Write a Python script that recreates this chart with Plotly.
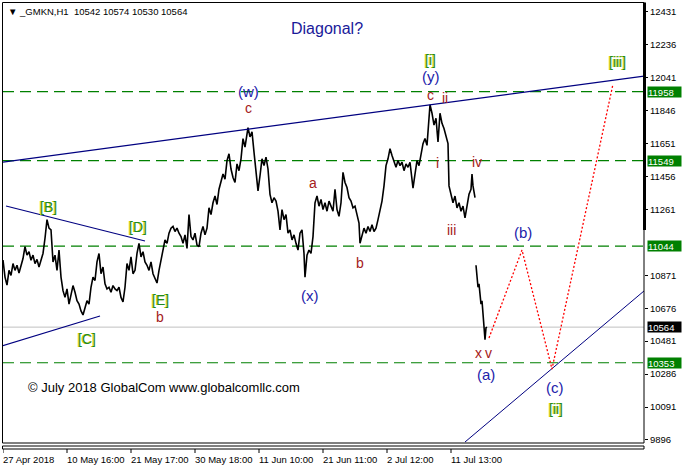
import plotly.graph_objects as go

# ---------------- data ----------------
# hourly bar index (one bar per screen column) and closing prices, segment before the gap
bars_1 = [3,5,7,9,11,13,15,17,19,21,23,25,27,29,31,33,35,37,39,41,43,45,47,49,51,53,55,57,59,61,
          63,65,67,69,71,73,75,77,79,81,83,85,87,89,91,93,95,97,99,101,103,105,107,109,111,113,115,117,119,121,
          123,125,127,129,131,133,135,137,139,141,143,145,147,149,151,153,155,157,159,161,163,165,167,169,171,173,175,177,179,181,
          183,185,187,189,191,193,195,197,199,201,203,205,207,209,211,213,215,217,219,221,223,225,227,229,231,233,235,237,239,241,
          243,245,247,248,250,252,254,256,258,260,262,264,266,268,270,272,274,276,278,280,282,284,286,288,290,292,294,296,298,300,
          302,304,305,307,309,311,313,315,317,319,321,323,325,327,329,331,333,335,337,339,341,343,345,347,349,351,353,355,357,359,
          360,362,364,366,368,370,372,374,376,378,380,382,384,386,388,390,392,394,396,398,400,402,404,406,408,410,412,413,415,417,
          419,421,423,425,427,429,430,432,434,436,438,440,442,444,446,448,449,451,453,455,457,459,461,463,465,467,469,471,472,473,475]
close_1 = [10961,10860,10813,10900,10870,10940,10900,10930,10884,10920,10970,11040,10990,11010,10960,10990,10940,10965,10920,10960,
           11000,11090,11200,11150,11140,10950,10990,10900,11020,10860,
           10780,10740,10790,10700,10760,10810,10770,10720,10700,10660,10636,10680,10720,10700,10800,10860,10840,10950,11000,10880,
           10920,10820,10790,10800,10770,10810,10790,10780,10800,10740,
           10713,10800,10940,10900,10980,10880,10900,11000,11060,10980,11010,10950,10930,10900,10950,10880,10850,10825,10900,10960,
           11040,11080,11060,11120,11150,11160,11130,11150,11120,11100,
           11060,11110,11030,11230,11100,11080,11120,11050,11040,11120,11160,11110,11150,11270,11230,11300,11340,11290,11380,11430,
           11470,11440,11550,11590,11500,11450,11420,11530,11490,11560,
           11680,11630,11700,11745,11690,11720,11600,11500,11370,11460,11560,11520,11570,11500,11350,11300,11330,11310,11250,11140,
           11260,11200,11230,11120,11140,11080,11110,11060,11020,11120,
           11140,11000,10860,10990,11020,11000,11100,11300,11340,11280,11320,11260,11300,11250,11310,11280,11250,11380,11260,11220,
           11300,11480,11420,11390,11330,11310,11270,11280,11230,11180,
           11060,11100,11150,11120,11160,11130,11170,11130,11150,11200,11250,11310,11400,11520,11560,11620,11580,11540,11510,11550,
           11520,11540,11490,11530,11510,11540,11420,11387,11470,11550,
           11520,11600,11650,11680,11640,11800,11880,11830,11760,11800,11660,11830,11770,11740,11700,11650,11400,11350,11300,11340,
           11270,11300,11250,11280,11210,11280,11350,11380,11470,11400,11330]
# segment after the price gap
bars_2 = [476,477,478,479,480,481,482,483,484,485,486,487]
close_2 = [10930,10880,10800,10820,10750,10700,10720,10650,10600,10490,10560,10564]

# horizontal levels
levels = [11958, 11549, 11044, 10353]
last_price = 10564

# trend lines (bar index, price)
upper_line_x = [3, 644]
upper_line_y = [11541, 12050]
tri_top_x = [6, 145]
tri_top_y = [11281, 11074]
tri_bot_x = [2, 100]
tri_bot_y = [10452, 10630]
lower_line_x = [465, 644]
lower_line_y = [9884, 10778]

# projected path
proj_x = [489, 522, 552, 613]
proj_y = [10500, 11020, 10316, 12003]

# axis ticks
price_ticks = [12431, 12236, 12041, 11846, 11651, 11456, 11261, 10871, 10676, 10481, 10286, 10091, 9896]
time_tick_bars = [3, 67, 131, 195, 259, 323, 387, 451]
time_tick_labels = ["27 Apr 2018", "10 May 16:00", "21 May 17:00", "30 May 18:00",
                    "11 Jun 10:00", "21 Jun 11:00", "2 Jul 12:00", "11 Jul 13:00"]

# wave labels: (text, bar, price, kind)
wave_labels = [
    ("[B]", 48, 11275, "g"), ("[D]", 138, 11157, "g"), ("[E]", 160, 10725, "g"),
    ("b", 160, 10624, "r"), ("[C]", 87, 10494, "g"),
    ("(w)", 248, 11956, "b"), ("c", 248, 11861, "r"),
    ("[i]", 430, 12145, "g"), ("(y)", 431, 12045, "b"), ("c", 430, 11938, "r"),
    ("ii", 445, 11920, "r"), ("a", 313, 11417, "r"), ("b", 360, 10944, "r"),
    ("(x)", 310, 10754, "b"), ("i", 437, 11535, "r"), ("iii", 451, 11139, "r"),
    ("iv", 477, 11541, "r"), ("(b)", 523, 11127, "b"), ("x", 478, 10411, "r"),
    ("v", 488, 10411, "r"), ("(a)", 486, 10281, "b"), ("(c)", 555, 10204, "b"),
    ("[ii]", 556, 10079, "g"), ("[iii]", 617, 12133, "g"),
]

# ---------------- figure ----------------
W, H = 685, 470
L, R, T, B = 3, 644, 3, 443
Y_TOP, Y_BOT = 12482.5, 9878.1

def py(pix):
    return (B - pix) / (B - T)

def px(pix):
    return (pix - L) / (R - L)

fig = go.Figure()

fig.add_trace(go.Scatter(x=bars_1 + [None] + bars_2, y=close_1 + [None] + close_2,
                         mode="lines", line=dict(color="black", width=1.6),
                         connectgaps=False, hoverinfo="skip"))
for xs, ys, w in [(upper_line_x, upper_line_y, 1.3), (tri_top_x, tri_top_y, 1.2),
                  (tri_bot_x, tri_bot_y, 1.2), (lower_line_x, lower_line_y, 1)]:
    fig.add_trace(go.Scatter(x=xs, y=ys, mode="lines", line=dict(color="#000080", width=w),
                             hoverinfo="skip"))
fig.add_trace(go.Scatter(x=proj_x, y=proj_y, mode="lines",
                         line=dict(color="#ff0000", width=1.3, dash="2px,2px"), hoverinfo="skip"))

shapes = []
for lv in levels:
    shapes.append(dict(type="line", xref="paper", yref="y", x0=0, x1=1, y0=lv, y1=lv,
                       line=dict(color="#008000", width=1.2, dash="11px,6px"), layer="below"))
shapes.append(dict(type="line", xref="paper", yref="y", x0=0, x1=1, y0=last_price, y1=last_price,
                   line=dict(color="#c0c0c0", width=1), layer="below"))
# frame
shapes.append(dict(type="rect", xref="paper", yref="paper", x0=px(2.5), x1=1, y0=0, y1=py(2.5),
                   line=dict(color="black", width=1)))
shapes.append(dict(type="rect", xref="paper", yref="paper", x0=px(2.5), x1=1, y0=py(446), y1=py(449),
                   line=dict(color="black", width=1)))
shapes.append(dict(type="line", xref="paper", yref="paper", x0=px(644.5), x1=px(644.5), y0=py(230), y1=py(2.5),
                   line=dict(color="black", width=3)))
for tb in time_tick_bars:
    shapes.append(dict(type="line", xref="x", yref="paper", x0=tb, x1=tb, y0=py(449), y1=py(453),
                       line=dict(color="black", width=1)))

annotations = []
tick_font = dict(family="Tahoma, Liberation Sans, Arial", size=9.5, color="black")
for tb, tl in zip(time_tick_bars, time_tick_labels):
    annotations.append(dict(x=tb, y=0, xref="x", yref="paper", text=tl, showarrow=False,
                            xanchor="left", yanchor="top", yshift=-8.5, xshift=-2, font=tick_font))
for lv in levels:
    annotations.append(dict(x=1, y=lv, xref="paper", yref="y", text=str(lv), showarrow=False,
                            xanchor="left", yanchor="middle", xshift=3, bgcolor="#008000",
                            width=33, height=10, align="left", borderpad=0,
                            font=dict(family="Tahoma, Liberation Sans, Arial", size=9.5, color="white")))
annotations.append(dict(x=1, y=last_price, xref="paper", yref="y", text=str(last_price), showarrow=False,
                        xanchor="left", yanchor="middle", xshift=3, bgcolor="black",
                        width=33, height=10, align="left", borderpad=0,
                        font=dict(family="Tahoma, Liberation Sans, Arial", size=9.5, color="white")))

annotations.append(dict(x=px(6), y=py(11), xref="paper", yref="paper",
                        text="▼\u00a0_GMKN,H1\u00a0\u00a010542 10574 10530 10564", showarrow=False,
                        xanchor="left", yanchor="middle", font=tick_font))
annotations.append(dict(x=327, y=12329, xref="x", yref="y", text="Diagonal?", showarrow=False,
                        font=dict(family="Liberation Sans, Arial", size=16, color="#1a1a9a")))
annotations.append(dict(x=164, y=py(397), xref="x", yref="paper",
                        text="© July 2018 GlobalCom www.globalcomllc.com", showarrow=False,
                        font=dict(family="Liberation Sans, Arial", size=13, color="black")))

styles = {
    "g": dict(family="Liberation Sans, Arial", size=14, color="#1f8a1f", shadow="-1px 0px 0px #d4d400"),
    "r": dict(family="Liberation Sans, Arial", size=14, color="#a52020"),
    "b": dict(family="Liberation Sans, Arial", size=15, color="#2222aa"),
}
for txt, bx, pr, kind in wave_labels:
    annotations.append(dict(x=bx, y=pr, xref="x", yref="y", text=txt, showarrow=False,
                            font=styles[kind]))

fig.update_layout(
    width=W, height=H, margin=dict(l=L, r=W - R, t=T, b=H - B),
    paper_bgcolor="white", plot_bgcolor="white", showlegend=False,
    xaxis=dict(range=[L, R], showgrid=False, zeroline=False, showticklabels=False, fixedrange=True),
    yaxis=dict(range=[Y_BOT, Y_TOP], side="right", showgrid=False, zeroline=False,
               tickvals=price_ticks, ticktext=[str(v) for v in price_ticks],
               ticks="outside", ticklen=3, tickcolor="black", tickfont=tick_font),
    shapes=shapes, annotations=annotations,
)

fig.write_html("out.html", config={"displayModeBar": False},
               post_script="document.body.style.margin='0px';document.body.style.overflow='hidden';")
